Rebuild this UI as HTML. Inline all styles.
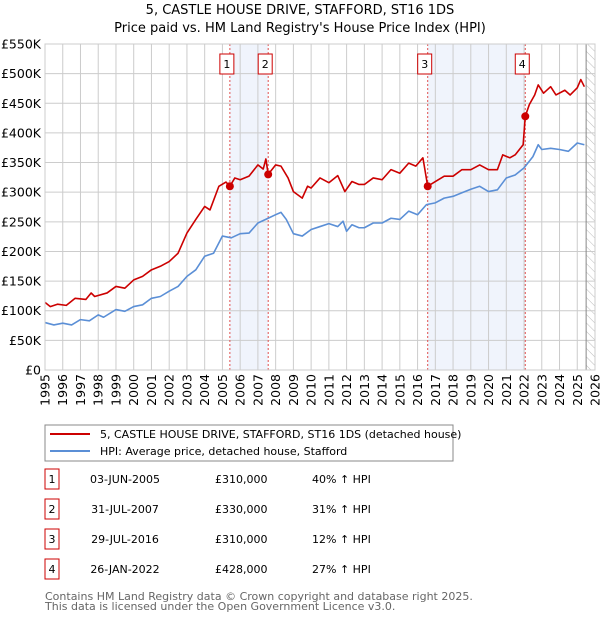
<!DOCTYPE html>
<html><head><meta charset="utf-8"><style>
body{margin:0;background:#fff;font-family:"DejaVu Sans","Liberation Sans",sans-serif;}
svg text{font-family:"DejaVu Sans","Liberation Sans",sans-serif;}
</style></head><body>
<svg id="c" width="600" height="620" xmlns="http://www.w3.org/2000/svg">
<defs><pattern id="hatch" width="6" height="6" patternUnits="userSpaceOnUse" patternTransform="rotate(-45)"><line x1="0" y1="0" x2="0" y2="6" stroke="#bbb" stroke-width="1"/></pattern></defs>
<text x="300" y="14" text-anchor="middle" font-size="13">5, CASTLE HOUSE DRIVE, STAFFORD, ST16 1DS</text>
<text x="300" y="32" text-anchor="middle" font-size="13">Price paid vs. HM Land Registry's House Price Index (HPI)</text>
<g id="grid"></g><g id="marks"></g>
<rect x="45" y="44" width="550" height="326" fill="none" stroke="#ccc"/>
<g>
<rect x="45" y="425" width="408" height="36" fill="#fff" stroke="#888"/>
<line x1="50" y1="434" x2="90" y2="434" stroke="#cc0000" stroke-width="2"/>
<text x="100" y="438" font-size="11">5, CASTLE HOUSE DRIVE, STAFFORD, ST16 1DS (detached house)</text>
<line x1="50" y1="451" x2="90" y2="451" stroke="#5b8fd6" stroke-width="2"/>
<text x="100" y="455" font-size="11">HPI: Average price, detached house, Stafford</text>
</g>
<g id="table" font-size="11"></g>
<text x="45" y="600" font-size="11" fill="#666">Contains HM Land Registry data © Crown copyright and database right 2025.</text>
<text x="45" y="610" font-size="11" fill="#666">This data is licensed under the Open Government Licence v3.0.</text>
</svg>
<script>
const yTicks=[0,50,100,150,200,250,300,350,400,450,500,550];
const yTickLabels=["£0","£50K","£100K","£150K","£200K","£250K","£300K","£350K","£400K","£450K","£500K","£550K"];
const xYears=[1995,1996,1997,1998,1999,2000,2001,2002,2003,2004,2005,2006,2007,2008,2009,2010,2011,2012,2013,2014,2015,2016,2017,2018,2019,2020,2021,2022,2023,2024,2025,2026];
const hpiT=[1995,1995.5,1996,1996.5,1997,1997.5,1998,1998.3,1999,1999.5,2000,2000.5,2001,2001.5,2002,2002.5,2003,2003.5,2004,2004.5,2005,2005.5,2006,2006.5,2007,2007.5,2008,2008.3,2008.6,2009,2009.5,2010,2010.5,2011,2011.5,2011.8,2012,2012.3,2012.7,2013,2013.5,2014,2014.5,2015,2015.5,2016,2016.5,2017,2017.5,2018,2018.5,2019,2019.5,2020,2020.5,2021,2021.5,2022,2022.5,2022.8,2023,2023.5,2024,2024.5,2025,2025.4];
const hpiV=[80,76,79,76,85,83,93,89,102,99,107,110,121,124,133,141,158,169,192,197,226,223,230,231,248,255,262,266,254,230,226,237,242,247,242,251,234,245,240,240,248,248,256,254,268,262,279,282,290,293,299,305,310,301,304,324,329,341,360,380,372,374,372,369,383,380];
const priceT=[1995,1995.3,1995.7,1996.2,1996.7,1997.3,1997.6,1997.8,1998.5,1999,1999.5,2000,2000.5,2001,2001.5,2002,2002.5,2003,2003.5,2004,2004.3,2004.8,2005.2,2005.42,2005.7,2006,2006.5,2007,2007.3,2007.45,2007.58,2008,2008.3,2008.7,2009,2009.5,2009.8,2010,2010.5,2011,2011.5,2011.9,2012.3,2012.7,2013,2013.5,2014,2014.5,2015,2015.5,2015.9,2016.3,2016.57,2017,2017.5,2018,2018.5,2019,2019.5,2020,2020.5,2020.8,2021.2,2021.5,2021.95,2022.07,2022.3,2022.6,2022.8,2023.1,2023.5,2023.8,2024.3,2024.6,2025,2025.2,2025.4];
const priceV=[114,107,111,109,121,119,130,124,130,141,138,152,158,169,175,183,197,231,254,276,270,310,317,310,324,321,327,346,339,356,330,346,344,324,301,290,310,307,324,316,328,301,318,313,313,324,321,338,332,349,344,358,310,318,327,327,338,338,346,338,338,363,358,363,380,428,448,464,481,467,478,464,472,464,476,490,478];
const saleNums=["1","2","3","4"];
const saleT=[2005.42,2007.58,2016.57,2022.07];
const saleV=[310,330,310,428];
const saleDates=["03-JUN-2005","31-JUL-2007","29-JUL-2016","26-JAN-2022"];
const salePrices=["£310,000","£330,000","£310,000","£428,000"];
const saleHpi=["40% ↑ HPI","31% ↑ HPI","12% ↑ HPI","27% ↑ HPI"];
const NS="http://www.w3.org/2000/svg";
const X=t=>45+(t-1995)*550/31, Y=v=>370-v*326/550;
function mk(tag,at,parent){const e=document.createElementNS(NS,tag);for(const k in at)e.setAttribute(k,at[k]);parent.appendChild(e);return e;}
const g=document.getElementById('grid'), m=document.getElementById('marks'), tb=document.getElementById('table');
for(const [a,b] of [[0,1],[2,3]]){const r=mk('rect',{x:X(saleT[a]),y:44,width:X(saleT[b])-X(saleT[a]),height:326,fill:'#f0f4fc'},g);

}
const h=mk('rect',{x:X(2025.5),y:44,width:595-X(2025.5),height:326,fill:'url(#hatch)'},g);


yTicks.forEach((v,i)=>{mk('line',{x1:45,x2:595,y1:Y(v),y2:Y(v),stroke:'#ccc'},g);
const t=mk('text',{x:41,y:Y(v)+4.5,'text-anchor':'end','font-size':12.5},g);t.textContent=yTickLabels[i];

});
xYears.forEach(yr=>{mk('line',{x1:X(yr),x2:X(yr),y1:44,y2:370,stroke:'#ccc'},g);
const t=mk('text',{x:X(yr)+4.5,y:374,'text-anchor':'end','font-size':12.5,transform:`rotate(-90 ${X(yr)+4.5} 374)`},g);t.textContent=yr;

});
mk('line',{x1:X(2025.5),x2:X(2025.5),y1:44,y2:370,stroke:'#888'},g);
saleT.forEach((t,i)=>{const l=mk('line',{x1:X(t),x2:X(t),y1:44,y2:370,stroke:'#e05050','stroke-dasharray':'2,2'},g);


const bx=mk('g',{},m);


mk('rect',{x:X(t)-10,y:54,width:14,height:20,fill:'#fff',stroke:'#cc0000'},bx);
const tx=mk('text',{x:X(t)-3,y:68,'text-anchor':'middle','font-size':11},bx);tx.textContent=saleNums[i];});
const line=(T,V,c,n)=>{const p=mk('polyline',{points:T.map((t,i)=>X(t)+','+Y(V[i])).join(' '),fill:'none',stroke:c,'stroke-width':1.6,'stroke-linejoin':'round'},m);

};
line(hpiT,hpiV,'#5b8fd6','hpi-line');
line(priceT,priceV,'#cc0000','price-line');
saleT.forEach((t,i)=>{const c=mk('circle',{cx:X(t),cy:Y(saleV[i]),r:4,fill:'#cc0000'},m);

});
saleNums.forEach((n,i)=>{const y=483+i*30;const row=mk('g',{},tb);


mk('rect',{x:45,y:y-14,width:14,height:20,fill:'#fff',stroke:'#cc0000'},row);
const a=mk('text',{x:52,y:y,'text-anchor':'middle'},row);a.textContent=n;
const b=mk('text',{x:125,y:y,'text-anchor':'middle'},row);b.textContent=saleDates[i];
const c=mk('text',{x:215,y:y},row);c.textContent=salePrices[i];
const d=mk('text',{x:312,y:y},row);d.textContent=saleHpi[i];});
</script>
</body></html>
